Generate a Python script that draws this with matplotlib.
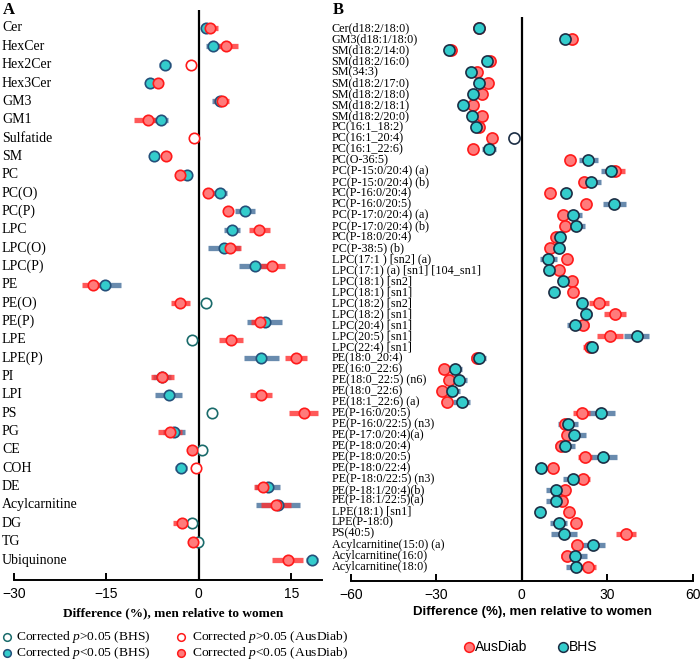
import numpy as np
import matplotlib
matplotlib.use('Agg')
import matplotlib.pyplot as plt
import matplotlib.transforms as mtransforms
from matplotlib.lines import Line2D

plt.rcParams['font.family'] = 'Liberation Serif'
plt.rcParams['mathtext.fontset'] = 'custom'
plt.rcParams['mathtext.rm'] = 'Liberation Serif'
plt.rcParams['mathtext.it'] = 'Liberation Serif:italic'

nan = np.nan

# ---- panel A: lipid classes ----
a_labels = ['Cer', 'HexCer', 'Hex2Cer', 'Hex3Cer', 'GM3', 'GM1', 'Sulfatide', 'SM', 'PC',
            'PC(O)', 'PC(P)', 'LPC', 'LPC(O)', 'LPC(P)', 'PE', 'PE(O)', 'PE(P)', 'LPE',
            'LPE(P)', 'PI', 'LPI', 'PS', 'PG', 'CE', 'COH', 'DE', 'Acylcarnitine', 'DG',
            'TG', 'Ubiquinone']
a_bhs = [1.1, 2.3, -5.5, -8.0, 3.4, -6.2, nan, -7.3, -1.9, 3.4, 7.5, 5.35, 4.05, 9.2,
         -15.3, 1.2, 10.7, -1.1, 10.15, -6.0, -4.9, 2.2, -4.05, 0.6, -2.9, 11.2, 12.9,
         -1.1, -0.1, 18.4]
a_bhs_ci = [0.8, 1.2, 1.0, 0.8, 1.2, 1.2, 0, 0.5, 0.6, 1.2, 1.7, 1.3, 2.6, 2.7, 2.6, 0,
            2.8, 0, 2.8, 1.5, 2.2, 0, 1.8, 0, 1.0, 2.0, 3.6, 0, 0, 1.0]
a_bhs_sig = [1, 1, 1, 1, 1, 1, 0, 1, 1, 1, 1, 1, 1, 1, 1, 0, 1, 0, 1, 1, 1, 0, 1, 0, 1,
             1, 1, 0, 0, 1]
a_aus = [1.8, 4.4, -1.2, -6.7, 3.7, -8.2, -0.75, -5.3, -3.1, 1.5, 4.75, 9.8, 5.1, 11.9,
         -17.2, -3.0, 10.0, 5.2, 15.8, -5.9, 10.05, 17.0, -4.7, -1.1, -0.4, 10.5, 12.5,
         -2.8, -0.9, 14.4]
a_aus_ci = [1.3, 1.9, 0, 0.8, 1.2, 2.3, 0, 0.5, 0.6, 0.6, 0.7, 1.7, 1.8, 2.1, 1.7, 1.5,
            1.5, 2.0, 1.8, 1.9, 1.8, 2.4, 2.0, 0.6, 0, 1.5, 2.4, 1.4, 0.5, 2.5]
a_aus_sig = [1, 1, 0, 1, 1, 1, 0, 1, 1, 1, 1, 1, 1, 1, 1, 1, 1, 1, 1, 1, 1, 1, 1, 1, 0,
             1, 1, 1, 1, 1]

# ---- panel B: individual species ----
b_labels = ['Cer(d18:2/18:0)', 'GM3(d18:1/18:0)', 'SM(d18:2/14:0)', 'SM(d18:2/16:0)',
            'SM(34:3)', 'SM(d18:2/17:0)', 'SM(d18:2/18:0)', 'SM(d18:2/18:1)',
            'SM(d18:2/20:0)', 'PC(16:1_18:2)', 'PC(16:1_20:4)', 'PC(16:1_22:6)',
            'PC(O-36:5)', 'PC(P-15:0/20:4) (a)', 'PC(P-15:0/20:4) (b)', 'PC(P-16:0/20:4)',
            'PC(P-16:0/20:5)', 'PC(P-17:0/20:4) (a)', 'PC(P-17:0/20:4) (b)',
            'PC(P-18:0/20:4)', 'PC(P-38:5) (b)', 'LPC(17:1 ) [sn2] (a)',
            'LPC(17:1) (a) [sn1] [104_sn1]', 'LPC(18:1) [sn2]', 'LPC(18:1) [sn1]',
            'LPC(18:2) [sn2]', 'LPC(18:2) [sn1]', 'LPC(20:4) [sn1]', 'LPC(20:5) [sn1]',
            'LPC(22:4) [sn1]', 'PE(18:0_20:4)', 'PE(16:0_22:6)', 'PE(18:0_22:5) (n6)',
            'PE(18:0_22:6)', 'PE(18:1_22:6) (a)', 'PE(P-16:0/20:5)',
            'PE(P-16:0/22:5) (n3)', 'PE(P-17:0/20:4)(a)', 'PE(P-18:0/20:4)',
            'PE(P-18:0/20:5)', 'PE(P-18:0/22:4)', 'PE(P-18:0/22:5) (n3)',
            'PE(P-18:1/20:4)(b)', 'PE(P-18:1/22:5)(a)', 'LPE(18:1) [sn1]', 'LPE(P-18:0)',
            'PS(40:5)', 'Acylcarnitine(15:0) (a)', 'Acylcarnitine(16:0)',
            'Acylcarnitine(18:0)']
b_bhs = [-15.2, 15.2, -25.5, -12.3, -17.8, -15.2, -17.3, -20.8, -17.5, -16.1, -2.6,
         -11.5, 23.4, 31.3, 24.3, 15.4, 32.5, 18.1, 19.1, 13.4, 12.9, 9.3, 9.6, 14.6,
         11.3, 21.0, 22.6, 18.7, 40.3, 24.6, -15.2, -23.4, -22.2, -24.6, -21.1, 27.8,
         16.1, 18.4, 15.2, 28.4, 6.7, 18.1, 12.0, 12.0, 6.4, 12.9, 14.8, 25.1, 18.5, 19.1]
b_bhs_ci = [0.8, 0.8, 0.8, 0.8, 0.8, 0.8, 0.8, 0.8, 0.8, 0.8, 2.0, 2.5, 3.3, 3.5, 3.5,
            2.0, 4.0, 3.0, 3.0, 1.5, 1.5, 3.0, 1.5, 1.5, 1.0, 1.5, 2.0, 3.0, 4.5, 1.5,
            2.5, 2.5, 3.0, 3.0, 3.0, 5.0, 3.5, 4.0, 3.5, 5.0, 2.0, 3.5, 3.5, 3.5, 1.0,
            3.0, 4.5, 4.0, 4.5, 3.5]
b_bhs_sig = [1] * 10 + [0] + [1] * 39
b_aus = [-15.0, 17.5, -24.8, -11.1, -15.6, -11.9, -14.0, -17.3, -14.0, -15.2, -10.5,
         -17.3, 16.9, 32.7, 22.0, 9.9, 22.4, 14.3, 15.2, 12.0, 9.9, 15.8, 12.9, 17.5,
         18.1, 27.2, 32.7, 21.6, 31.0, 23.9, -15.8, -27.5, -25.7, -28.1, -26.3, 21.0,
         15.2, 15.8, 13.7, 22.2, 11.1, 21.6, 15.2, 14.0, 16.7, 19.1, 36.6, 19.3, 15.8, 23.4]
b_aus_ci = [0.8, 0.8, 0.8, 0.8, 0.8, 0.8, 0.8, 0.8, 0.8, 0.8, 0.8, 0.8, 1.0, 3.5, 2.0,
            1.0, 1.5, 1.0, 1.0, 1.0, 1.0, 1.0, 1.0, 1.0, 1.0, 3.5, 4.0, 2.0, 4.5, 2.5,
            1.0, 1.5, 1.5, 1.5, 1.5, 3.0, 1.5, 1.5, 1.5, 2.5, 1.0, 2.5, 1.5, 1.5, 1.0,
            1.0, 3.5, 2.0, 2.0, 2.5]
b_aus_sig = [1] * 50

BHS_FILL = '#33cccc'
BHS_BAR = '#4f77a0'
AUS_FILL = '#ff7b7b'
AUS_EDGE = '#ff1a1a'
AUS_BAR = '#ff3030'

W, H = 700, 661
fig = plt.figure(figsize=(7, 6.61), dpi=100)
axA = fig.add_axes([14 / W, 1 - 580 / H, 308 / W, 570 / H])
axB = fig.add_axes([351 / W, 1 - 581 / H, 341.7 / W, 564 / H])


def draw_panel(ax, labels, bhs, bhs_ci, bhs_sig, aus, aus_ci, aus_sig,
               bhs_edge, bhs_open_edge, bhs_top, ms, lab_x, lab_size):
    n = len(labels)
    for i in range(n):
        if bhs_sig[i] and not np.isnan(bhs[i]) and bhs_ci[i] > 0:
            ax.plot([bhs[i] - bhs_ci[i], bhs[i] + bhs_ci[i]], [i, i], color=BHS_BAR,
                    lw=3.8, alpha=0.85, solid_capstyle='butt', zorder=2)
    for i in range(n):
        if aus_sig[i] and aus_ci[i] > 0:
            ax.plot([aus[i] - aus_ci[i], aus[i] + aus_ci[i]], [i, i], color=AUS_BAR,
                    lw=3.8, alpha=0.8, solid_capstyle='butt', zorder=3)
    zb, za = (6, 5) if bhs_top else (5, 6)
    for i in range(n):
        if not np.isnan(bhs[i]):
            if bhs_sig[i]:
                ax.plot(bhs[i], i, 'o', ms=ms, mfc=BHS_FILL, mec=bhs_edge, mew=1.2, zorder=zb)
            else:
                ax.plot(bhs[i], i, 'o', ms=ms, mfc='white', mec=bhs_open_edge, mew=1.2, zorder=zb)
        if aus_sig[i]:
            ax.plot(aus[i], i, 'o', ms=ms, mfc=AUS_FILL, mec=AUS_EDGE, mew=1.2, zorder=za)
        else:
            ax.plot(aus[i], i, 'o', ms=ms, mfc='white', mec=AUS_EDGE, mew=1.2, zorder=za)
    trans = mtransforms.blended_transform_factory(fig.transFigure, ax.transData)
    for i, lab in enumerate(labels):
        ax.text(lab_x, i, lab, transform=trans, ha='left', va='center',
                fontsize=lab_size, clip_on=False)
    ax.axvline(0, color='black', lw=1.6, zorder=1)
    for s in ['left', 'top', 'right']:
        ax.spines[s].set_visible(False)
    ax.spines['bottom'].set_linewidth(1.4)
    ax.set_yticks([])
    ax.tick_params(axis='x', direction='in', length=5, width=1.4, labelsize=10, pad=5)


draw_panel(axA, a_labels, a_bhs, a_bhs_ci, a_bhs_sig, a_aus, a_aus_ci, a_aus_sig,
           '#24507a', '#1a6b6b', False, 7.5, 2 / W, 10)
axA.set_xlim(-30, 20)
axA.set_ylim(29 + 1.09, -0.98)
axA.set_xticks([-30, -15, 0, 15])

draw_panel(axB, b_labels, b_bhs, b_bhs_ci, b_bhs_sig, b_aus, b_aus_ci, b_aus_sig,
           '#1c2e45', '#1c2e45', True, 8, 331.5 / W, 8.7)
axB.set_xlim(-60, 60)
axB.set_ylim(49 + 1.3, -1.03)
axB.set_xticks([-60, -30, 0, 30, 60])

for ax in (axA, axB):
    for t in ax.get_xticklabels():
        t.set_fontfamily('Liberation Sans')

fig.text(173.5 / W, 1 - 613 / H, 'Difference (%), men relative to women',
         ha='center', va='center', fontsize=9.5, fontweight='bold')
fig.text(532.5 / W, 1 - 612 / H, 'Difference (%), men relative to women',
         ha='center', va='center', fontsize=9.5, fontweight='bold',
         family='Liberation Sans')

fig.text(3 / W, 1 - 2 / H, 'A', ha='left', va='top', fontsize=12, fontweight='bold')
fig.text(333 / W, 1 - 2 / H, 'B', ha='left', va='top', fontsize=12, fontweight='bold')


def legend_item(x_mark, x_text, y, mfc, mec, ms, text, **kw):
    fig.add_artist(Line2D([x_mark / W], [1 - y / H], transform=fig.transFigure, ls='none',
                          marker='o', ms=ms, mfc=mfc, mec=mec, mew=1.1))
    fig.text(x_text / W, 1 - y / H, text, ha='left', va='center', **kw)


# legend A (drawn by hand so the two rows sit tight)
legend_item(7, 16, 637, 'white', '#1a6b6b', 5.5, 'Corrected $p$>0.05 (BHS)', fontsize=9.7)
legend_item(7, 16, 653, BHS_FILL, '#24507a', 5.5, 'Corrected $p$<0.05 (BHS)', fontsize=9.7)
legend_item(181, 192, 637, 'white', AUS_EDGE, 5.5, 'Corrected $p$>0.05 (AusDiab)', fontsize=9.7)
legend_item(181, 192, 653, AUS_FILL, AUS_EDGE, 5.5, 'Corrected $p$<0.05 (AusDiab)', fontsize=9.7)

# legend B
legend_item(469, 475, 647, AUS_FILL, AUS_EDGE, 7, 'AusDiab', fontsize=10,
            family='Liberation Sans')
legend_item(563, 569, 647, BHS_FILL, '#1c2e45', 7, 'BHS', fontsize=10,
            family='Liberation Sans')

fig.savefig('out.png', dpi=100)
